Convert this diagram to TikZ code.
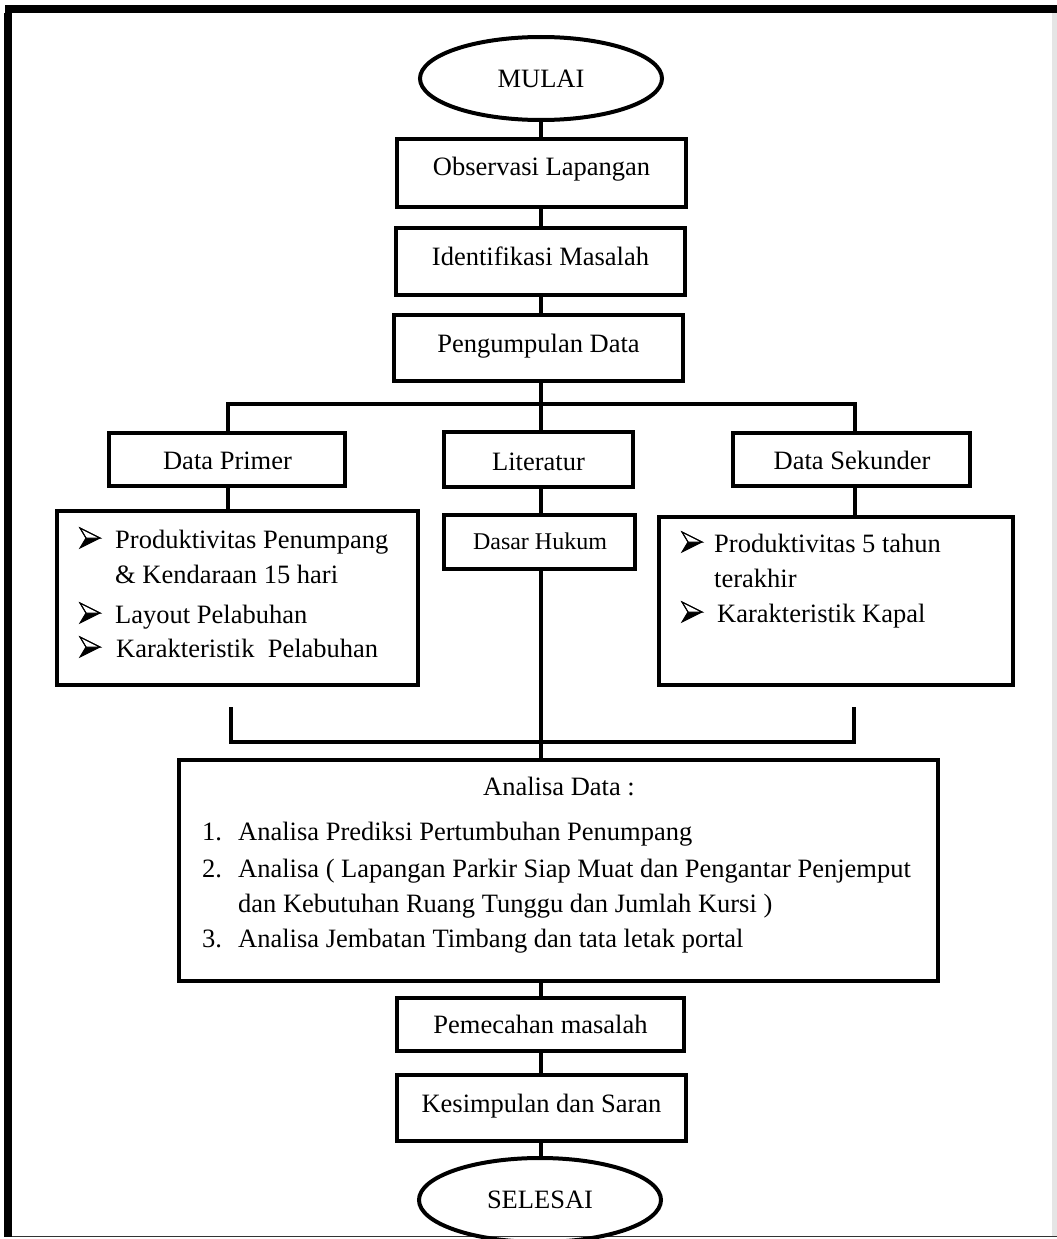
\documentclass[tikz,border=0pt]{standalone}
\usepackage{fontspec}
\setmainfont{Liberation Serif}
\usetikzlibrary{shapes.geometric}
\newcommand\mfs{\fontsize{26.5}{30}\selectfont}
\newcommand\sfs{\fontsize{24}{28}\selectfont}
\begin{document}
\begin{tikzpicture}[x=1pt,y=-1pt,
  box/.style={draw, line width=4pt, rectangle, inner sep=0pt},
  oval/.style={draw, line width=4pt, ellipse, inner sep=0pt, minimum width=242pt, minimum height=83pt},
  lbl/.style={inner sep=0pt, anchor=base, font=\mfs},
  lblw/.style={inner sep=0pt, anchor=base west, font=\mfs},
  conn/.style={line width=4pt},
  bul/.pic={
    \fill[black] (6,-10) -- (20,-10) -- (0,0) -- cycle;
    \draw[line width=1pt, line join=miter, fill=white] (0,-20) -- (20,-10) -- (6,-10) -- cycle;
    \draw[line width=1pt, line join=miter] (0,-20) -- (20,-10) -- (0,0) -- (6,-10) -- cycle;
  }]
\useasboundingbox (0,0) rectangle (1057,1239);
\clip (0,0) rectangle (1057,1239);
\fill[white] (0,0) rectangle (1057,1239);

% page frame
\fill[black] (5,5) rectangle (1057,13);
\fill[black] (4,13) rectangle (12,1237);
\fill[black!10] (1052,13) rectangle (1057,1236);
\draw[line width=1.5pt, black!80] (12,1236.5) -- (1057,1236.5);

% main column
\node[oval] (mulai) at (541,78.5) {};
\node[lbl] (tmulai) at (541,87) {MULAI};

\node[box, minimum width=289pt, minimum height=68pt] (obs) at (541.5,173) {};
\node[lbl] (tobs) at (541.5,175) {Observasi Lapangan};

\node[box, minimum width=289pt, minimum height=67pt] (ident) at (540.5,261.5) {};
\node[lbl] (tident) at (540.5,265.5) {Identifikasi Masalah};

\node[box, minimum width=289pt, minimum height=66pt] (peng) at (538.5,348) {};
\node[lbl] (tpeng) at (538.5,352) {Pengumpulan Data};

% branch boxes
\node[box, minimum width=236pt, minimum height=53pt] (primer) at (227,459.5) {};
\node[lbl] (tprimer) at (227.5,469) {Data Primer};

\node[box, minimum width=189pt, minimum height=55pt] (lit) at (538.5,459.5) {};
\node[lbl] (tlit) at (538.5,470) {Literatur};

\node[box, minimum width=237pt, minimum height=53pt] (sek) at (851.5,459.5) {};
\node[lbl] (tsek) at (852,469) {Data Sekunder};

% detail boxes
\node[box, minimum width=361pt, minimum height=174pt] (plist) at (237.5,598) {};
\pic at (80,548) {bul};
\node[lblw] (p1) at (115,548) {Produktivitas Penumpang};
\node[lblw] (p1b) at (115,583) {\& Kendaraan 15 hari};
\pic at (80,623) {bul};
\node[lblw] (p2) at (115,623) {Layout Pelabuhan};
\pic at (80,657) {bul};
\node[lblw] (p3) at (116,657) {Karakteristik~ Pelabuhan};

\node[box, minimum width=191pt, minimum height=54pt] (dasar) at (539.5,542) {};
\node[inner sep=0pt, anchor=base, font=\sfs] (tdasar) at (540,549) {Dasar Hukum};

\node[box, minimum width=354pt, minimum height=168pt] (slist) at (836,601) {};
\pic at (682,552) {bul};
\node[lblw] (s1) at (714,552) {Produktivitas 5 tahun};
\node[lblw] (s1b) at (714,587) {terakhir};
\pic at (682,622) {bul};
\node[lblw] (s2) at (717,622) {Karakteristik Kapal};

% analysis box
\node[box, minimum width=759pt, minimum height=221pt] (anal) at (558.5,870.5) {};
\node[lbl] (tanal) at (559,795) {Analisa Data :};
\node[lblw] (n1) at (202,840) {1.};
\node[lblw] (a1) at (238,840) {Analisa Prediksi Pertumbuhan Penumpang};
\node[lblw] (n2) at (202,877) {2.};
\node[lblw] (a2) at (238,877) {Analisa ( Lapangan Parkir Siap Muat dan Pengantar Penjemput};
\node[lblw] (a2b) at (238,912) {dan Kebutuhan Ruang Tunggu dan Jumlah Kursi )};
\node[lblw] (n3) at (202,947) {3.};
\node[lblw] (a3) at (238,947) {Analisa Jembatan Timbang dan tata letak portal};

% final boxes
\node[box, minimum width=287pt, minimum height=53pt] (pem) at (540.5,1024.5) {};
\node[lbl] (tpem) at (540.5,1033) {Pemecahan masalah};

\node[box, minimum width=289pt, minimum height=66pt] (kes) at (541.5,1108) {};
\node[lbl] (tkes) at (541.5,1112) {Kesimpulan dan Saran};

\node[oval, minimum height=84pt] (selesai) at (540,1200) {};
\node[lbl] (tsel) at (540,1208) {SELESAI};

% connector coordinates
\coordinate (bl) at (228,404);
\coordinate (bc) at (541,404);
\coordinate (br) at (855,404);
\coordinate (kl) at (231,707);
\coordinate (kr) at (854,707);
\coordinate (kc) at (541,742);

% connectors
\draw[conn] (mulai.south) -- (obs.north -| mulai.south);
\draw[conn] (obs.south -| 541,0) -- (ident.north -| 541,0);
\draw[conn] (ident.south -| 541,0) -- (peng.north -| 541,0);
\draw[conn] (peng.south -| bc) -- (bc);
\draw[conn] (bl |- primer.north) -- (bl) -- (br) -- (br |- sek.north);
\draw[conn] (bc) -- (bc |- lit.north);
\draw[conn] (bl |- primer.south) -- (bl |- plist.north);
\draw[conn] (bc |- lit.south) -- (bc |- dasar.north);
\draw[conn] (br |- sek.south) -- (br |- slist.north);
\draw[conn] (bc |- dasar.south) -- (bc |- anal.north);
\draw[conn] (kl) -- (kl |- kc) -- (kr |- kc) -- (kr);
\draw[conn] (anal.south -| 541,0) -- (pem.north -| 541,0);
\draw[conn] (pem.south -| 541,0) -- (kes.north -| 541,0);
\draw[conn] (kes.south -| 541,0) -- (selesai.north -| 541,0);
\end{tikzpicture}
\end{document}
